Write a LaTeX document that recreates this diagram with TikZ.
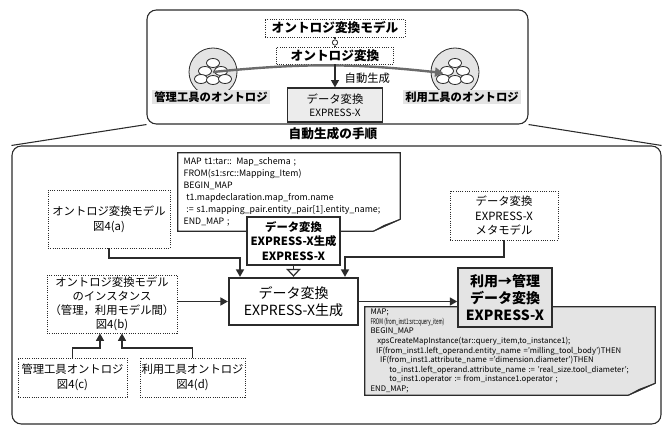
\documentclass[tikz,border=0pt]{standalone}
\usepackage{fontspec}
\setmainfont{Noto Sans CJK JP}
\usetikzlibrary{arrows.meta,positioning,calc,backgrounds}
\definecolor{Ink}{HTML}{2B2B2B}
\definecolor{Screen}{HTML}{E4E4E4}
\newcommand{\fsz}[2]{\fontsize{#1}{#2}\selectfont}

\begin{document}
\begin{tikzpicture}[x=0.75pt,y=-0.75pt,
  frame/.style={draw=Ink,rounded corners=7pt,line width=0.8pt},
  dotbox/.style={draw=Ink,densely dotted,line width=0.7pt,align=center,inner sep=1pt,font=\fsz{8.5}{11}},
  solidbox/.style={draw=Ink,line width=0.9pt,align=center,fill=white,inner sep=1pt},
  codebox/.style={align=left,inner sep=0pt},
  tag/.style={fill=Screen,inner sep=1.5pt,font=\bfseries\fsz{8.5}{10}},
  onto/.style={circle,draw=Ink,fill=Screen,minimum size=36pt,inner sep=0pt,line width=0.6pt},
  arrow/.style={-{Triangle[length=5.5pt,width=6pt]},line width=0.9pt,draw=Ink},
  hollow/.style={-{Triangle[open,length=6pt,width=11pt]},line width=0.9pt,draw=Ink},
  flow/.style={-{Triangle[length=6pt,width=7pt]},line width=1.8pt,draw=Ink!70}
]
\useasboundingbox (0,0) rectangle (665,428);

% upper panel: ontology conversion
\node[frame,minimum width=285.75pt,minimum height=85.5pt] (top) at (337.5,67) {};
\node[dotbox,minimum width=105pt,minimum height=13.5pt,font=\bfseries\fsz{9.5}{11}] (model) at (335,28) {オントロジ変換モデル};
\node[circle,draw=Ink,line width=0.6pt,inner sep=0pt,minimum size=4pt] (link) at (335,42.5) {};
\node[dotbox,minimum width=87.75pt,minimum height=12.75pt,font=\bfseries\fsz{9.5}{11}] (conv) at (335,55.5) {オントロジ変換};
\node[solidbox,fill=Screen!70,minimum width=71.25pt,minimum height=25.5pt,font=\fsz{8.5}{10}] (data) at (335,105) {データ変換\\{\fsz{7.5}{9}EXPRESS-X}};
\node[onto] (lc) at (213,72) {};
\node[onto] (rc) at (455,72) {};
\foreach \o in {lc,rc}{
  \foreach \dx/\dy in {0/-9,-8/-1,8/-1,-12/7,0/8,12/7}
    \draw[draw=Ink,fill=white,line width=0.6pt] ($(\o)+(\dx,\dy)$) ellipse [x radius=6.5,y radius=4.5];
}
\node[tag] (llbl) at (211,97) {管理工具のオントロジ};
\node[tag] (rlbl) at (462,97) {利用工具のオントロジ};
\draw[draw=Ink,line width=0.8pt] (model.south) -- (link) -- (conv.north);
\draw[flow] (lc.center) to[bend left=6] ($(rc.center)+(-12,1)$);
\draw[arrow] (conv.south) -- (data.north);
\node[anchor=west,font=\fsz{8.5}{10}] (autolbl) at (340,78) {自動生成};

% lower panel: generation steps
\node[font=\bfseries\fsz{9.5}{11}] (steplbl) at (333,134) {自動生成の手順};
\node[frame,minimum width=486.75pt,minimum height=208.5pt] (steps) at (336.5,285) {};
\draw[draw=Ink,line width=0.8pt] (top.south west) -- (steps.north west);
\draw[draw=Ink,line width=0.8pt] (top.south east) -- (steps.north east);

\node[codebox,minimum width=166.5pt,minimum height=58.5pt,text width=158pt,font=\fsz{6.6}{8.9}] (code1) at (289,192) {%
MAP t1:tar:: Map\_schema ;\\
FROM(s1:src::Mapping\_Item)\\
BEGIN\_MAP\\
\hspace*{2pt}t1.mapdeclaration.map\_from.name\\
\hspace*{2pt}:= s1.mapping\_pair.entity\_pair[1].entity\_name;\\
END\_MAP ;};
\begin{pgfonlayer}{background}
\draw[draw=Ink,line width=0.8pt,fill=white] (code1.north west) -- (code1.north east)
  -- ($(code1.south east)+(0,-12)$) -- ($(code1.south east)+(-27,0)$) -- (code1.south west) -- cycle;
\draw[draw=Ink,line width=0.6pt,fill=Screen] ($(code1.south east)+(0,-12)$) -- ($(code1.south east)+(-16,-6)$) -- ($(code1.south east)+(-27,0)$) -- cycle;
\end{pgfonlayer}

\node[solidbox,minimum width=69.75pt,minimum height=36pt,font=\bfseries\fsz{8.5}{11}] (gen) at (293.5,241) {データ変換\\EXPRESS-X生成\\EXPRESS-X};
\node[dotbox,minimum width=91.5pt,minimum height=43.5pt] (srcmodel) at (109,219) {オントロジ変換モデル\\図4(a)};
\node[dotbox,minimum width=81pt,minimum height=36.75pt] (meta) at (504,215.5) {データ変換\\EXPRESS-X\\メタモデル};
\node[solidbox,line width=1.8pt,minimum width=96.75pt,minimum height=35.25pt,font=\fsz{10.5}{13}] (main) at (293.5,301.5) {データ変換\\EXPRESS-X生成};
\node[dotbox,minimum width=97.5pt,minimum height=43.5pt,font=\fsz{8.5}{10.5}] (inst) at (112,304) {オントロジ変換モデル\\のインスタンス\\（管理，利用モデル間）\\図4(b)};
\node[dotbox,minimum width=81.75pt,minimum height=29.25pt] (mgr) at (72.5,377.5) {管理工具オントロジ\\図4(c)};
\node[dotbox,minimum width=78.75pt,minimum height=29.25pt] (usr) at (192.5,377.5) {利用工具オントロジ\\図4(d)};

\node[codebox,minimum width=217.5pt,minimum height=66pt,text width=209pt,font=\fsz{5.8}{7.2}] (code2) at (510,351) {%
MAP;\\
\scalebox{0.58}[1]{FROM (from\_inst1:src::query\_item)}\\
BEGIN\_MAP\\
\hspace*{5pt}xpsCreateMapInstance(tar::query\_item,to\_instance1);\\
\hspace*{4pt}IF(from\_inst1.left\_operand.entity\_name ='milling\_tool\_body')THEN\\
\hspace*{7pt}IF(from\_inst1.attribute\_name ='dimension.diameter')THEN\\
\hspace*{14pt}to\_inst1.left\_operand.attribute\_name := 'real\_size.tool\_diameter';\\
\hspace*{14pt}to\_inst1.operator := from\_instance1.operator ;\\
END\_MAP;};
\begin{pgfonlayer}{background}
\draw[draw=Ink,line width=0.8pt,fill=Screen] (code2.north west) -- (code2.north east)
  -- ($(code2.south east)+(0,-12)$) -- ($(code2.south east)+(-27,0)$) -- (code2.south west) -- cycle;
\draw[draw=Ink,line width=0.6pt,fill=white] ($(code2.south east)+(0,-12)$) -- ($(code2.south east)+(-16,-6)$) -- ($(code2.south east)+(-27,0)$) -- cycle;
\end{pgfonlayer}
\node[solidbox,fill=Screen,line width=1.2pt,minimum width=70.5pt,minimum height=44.25pt,font=\bfseries\fsz{10.5}{13}] (user) at (505,297.5) {利用→管理\\データ変換\\EXPRESS-X};

% connectors
\draw[arrow] (srcmodel.south) |- (240,258) -- (240,0 |- main.north);
\draw[arrow] (meta.south) |- (345,257) -- (345,0 |- main.north);
\draw[hollow] (gen.south) -- (gen.south |- main.north);
\draw[arrow] (inst.east |- main.west) -- (main.west);
\draw[arrow] (main.east) -- (main.east -| user.west);
\draw[arrow] (mgr.north) |- (100,348) -- (100,0 |- inst.south);
\draw[arrow] (usr.north) |- (122,348) -- (122,0 |- inst.south);
\end{tikzpicture}
\end{document}
